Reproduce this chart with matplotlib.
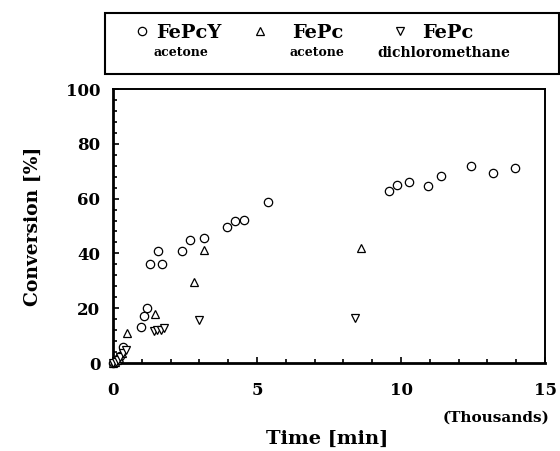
import matplotlib
matplotlib.use("Agg")
import matplotlib.pyplot as plt
from matplotlib.lines import Line2D
from matplotlib.patches import Rectangle
from matplotlib.ticker import MultipleLocator, FuncFormatter

# Data (time in minutes, conversion in %)
fepcy_x = [0, 60, 120, 180, 250, 350, 960, 1080, 1190, 1270, 1560, 1710, 2390, 2670,
           3150, 3970, 4250, 4560, 5370, 9600, 9850, 10270, 10950, 11400, 12430, 13210, 13960]
fepcy_y = [0, 0.5, 1, 1.5, 2.5, 5.7, 13, 17, 20, 36, 41, 36, 41, 45,
           45.5, 49.5, 51.7, 52.1, 58.6, 62.8, 64.8, 65.9, 64.5, 68.2, 72, 69.5, 71.2]

fepc_ac_x = [0, 80, 150, 220, 300, 490, 1460, 2810, 3170, 8600]
fepc_ac_y = [0, 0.5, 1, 2, 3.5, 10.8, 17.8, 29.5, 41.2, 42.1]

fepc_dcm_x = [0, 100, 180, 260, 330, 460, 1420, 1540, 1660, 1780, 2990, 8400]
fepc_dcm_y = [0, 0.5, 1.2, 2.2, 3.5, 4.7, 11.6, 11.9, 12.2, 12.6, 15.6, 16.5]

legend_titles = ["FePcY", "FePc", "FePc"]
legend_subs = ["acetone", "acetone", "dichloromethane"]
x_ticks = [0, 5000, 10000, 15000]
y_ticks = [0, 20, 40, 60, 80, 100]

W, H = 560, 451
fig = plt.figure(figsize=(W / 100, H / 100), dpi=100)
FONT = "DejaVu Serif"

ax = fig.add_axes([113 / W, 1 - 363 / H, (545 - 113) / W, (363 - 89) / H])
mk = dict(linestyle="none", markerfacecolor="white", markeredgecolor="black",
          markeredgewidth=0.9, clip_on=False, zorder=3)
ax.plot(fepcy_x, fepcy_y, marker="o", markersize=6, **mk)
ax.plot(fepc_ac_x, fepc_ac_y, marker="^", markersize=6, **mk)
ax.plot(fepc_dcm_x, fepc_dcm_y, marker="v", markersize=6, **mk)

ax.set_xlim(0, 15000)
ax.set_ylim(0, 100)
ax.set_xticks(x_ticks)
ax.set_yticks(y_ticks)
ax.xaxis.set_minor_locator(MultipleLocator(1000))
ax.yaxis.set_minor_locator(MultipleLocator(4))
ax.xaxis.set_major_formatter(FuncFormatter(lambda v, p: f"{v / 1000:.0f}"))
ax.tick_params(which="both", direction="in", top=False, right=False, width=1.2)
ax.tick_params(which="major", length=4)
ax.tick_params(which="minor", length=3)
ax.tick_params(axis="x", pad=14)
ax.tick_params(axis="y", pad=9)
for lab in ax.get_xticklabels() + ax.get_yticklabels():
    lab.set_fontfamily(FONT)
    lab.set_fontweight("bold")
    lab.set_fontsize(12)
for side in ["left", "bottom"]:
    ax.spines[side].set_linewidth(2)
for side in ["top", "right"]:
    ax.spines[side].set_linewidth(1.4)

ax.set_ylabel("Conversion [%]", fontfamily=FONT, fontweight="bold", fontsize=13.5, labelpad=17)
fig.text(327 / W, 1 - 439 / H, "Time [min]", fontfamily=FONT, fontweight="bold",
         fontsize=14, ha="center", va="center")
fig.text(496 / W, 1 - 418 / H, "(Thousands)", fontfamily=FONT, fontweight="bold",
         fontsize=11, ha="center", va="center")

# Legend box
fig.patches.append(Rectangle((105 / W, 1 - 74 / H), (559 - 105) / W, (74 - 13) / H,
                             transform=fig.transFigure, fill=False, edgecolor="black",
                             linewidth=1.5))
markers = ["o", "^", "v"]
mx = [142, 260, 400]
tx = [189, 318, 448]
sx = [181, 317, 444]
sub_sizes = [9, 9, 10]
for m, x0, t, s, fs, title, sub in zip(markers, mx, tx, sx, sub_sizes, legend_titles, legend_subs):
    fig.add_artist(Line2D([x0 / W], [1 - 31 / H], marker=m, markersize=6,
                          linestyle="none", markerfacecolor="white",
                          markeredgecolor="black", markeredgewidth=0.9,
                          transform=fig.transFigure))
    fig.text(t / W, 1 - 33 / H, title, fontfamily=FONT, fontweight="bold",
             fontsize=14, ha="center", va="center")
    fig.text(s / W, 1 - 53 / H, sub, fontfamily=FONT, fontweight="bold",
             fontsize=fs, ha="center", va="center")

fig.savefig("out.png", dpi=100)
